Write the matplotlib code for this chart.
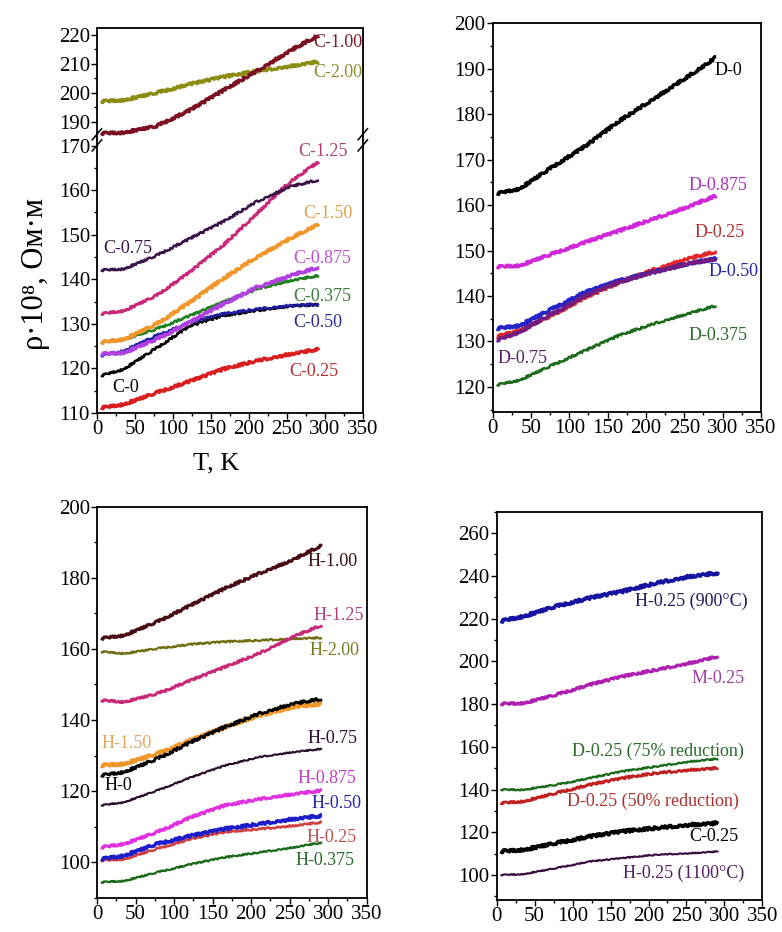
import matplotlib
matplotlib.use('Agg')
import matplotlib.pyplot as plt
from matplotlib.ticker import MultipleLocator

plt.rcParams['font.family'] = ['Liberation Serif', 'DejaVu Serif']

# temperature points (K) at which the curves were read
T = [5, 35, 78, 122, 166, 210, 254, 292]

# --- top left: C samples (broken axis) ---
c_100 = [186, 186.3, 188.5, 194, 200.8, 207.5, 214.5, 220]
c_200 = [197, 197.5, 200, 203, 205.5, 207.5, 209.2, 210.8]
c_075 = [142, 142.3, 145.3, 149.1, 152.9, 157.4, 160.8, 162.3]
c_125 = [132.2, 132.9, 136.3, 141.6, 147.6, 154.7, 161.9, 166.4]
c_150 = [125.8, 126.5, 129.9, 134.8, 140.1, 145, 149.1, 152.5]
c_0875 = [123.2, 123.5, 126.5, 130.3, 134.4, 138.2, 140.8, 142.7]
c_0375 = [125.8, 126.5, 128.8, 131.8, 134.8, 137.8, 139.7, 140.8]
c_050 = [122.8, 123.9, 127.3, 130.3, 132.2, 133.3, 134.1, 134.4]
c_0 = [118.3, 119.8, 124.5, 129.5, 131.8, 133, 134, 134.3]
c_025 = [111.1, 111.9, 114.5, 117.1, 119.8, 121.7, 123.2, 124.3]

# --- top right: D samples ---
d_0 = [162.5, 163.6, 168.4, 173.1, 178.6, 183.4, 188.2, 192.6]
d_0875 = [146.4, 146.7, 149.3, 151.9, 154.4, 157, 159.6, 162.1]
d_025 = [131, 132.5, 135.8, 139.8, 143, 145.8, 148.2, 149.8]
d_050 = [132.8, 133.5, 137.2, 140.9, 143.4, 145.3, 147.1, 148.2]
d_075 = [130.2, 132.1, 136.1, 140.1, 143.1, 145.3, 147.1, 148.2]
d_0375 = [120.4, 121.5, 124.8, 128.1, 131.4, 133.9, 136.1, 137.9]

# --- bottom left: H samples ---
h_100 = [162.9, 163.8, 167.6, 172.3, 177, 181.2, 185, 189.2]
h_200 = [159.2, 158.7, 160.1, 161.3, 162, 162.4, 162.9, 163.1]
h_125 = [145.5, 145.1, 147.4, 151.2, 154.9, 158.7, 163.4, 166.7]
h_150 = [127.2, 127.7, 130.5, 134.3, 138, 141.3, 143.7, 144.6]
h_0 = [124.4, 125.4, 129.1, 133.8, 138, 141.8, 144.6, 146]
h_075 = [116, 116.9, 120.2, 123.9, 127.2, 129.6, 131, 131.9]
h_0875 = [104.2, 105.2, 108.5, 112.7, 116, 117.8, 119.2, 120.2]
h_050 = [100.9, 101.9, 105.2, 107.5, 109.4, 110.8, 112.2, 113.1]
h_025 = [100.5, 100.9, 103.8, 106.6, 108.5, 109.4, 110.3, 111.3]
h_0375 = [94.4, 94.8, 97.2, 99.5, 101.4, 102.8, 104.2, 105.6]

# --- bottom right: 0.25 samples, different processing ---
h025_900 = [218.7, 221, 225.7, 229.6, 232.7, 236.6, 239.7, 241.3]
m_025 = [180, 180.4, 184.3, 189, 192.9, 196, 199.2, 202.3]
d025_75 = [139.9, 139.9, 142.2, 145.3, 148.5, 150.8, 153.1, 154.4]
d025_50 = [133.6, 134.4, 138.3, 142.2, 145.3, 147.7, 149.2, 150]
c025_b = [111, 111.8, 114.9, 118, 120.4, 122, 123.5, 124.3]
h025_1100 = [100, 100.4, 103.2, 106.3, 107.9, 109.5, 110.2, 111]

fig = plt.figure(figsize=(7.82, 9.32), dpi=100)
fig.patch.set_facecolor('white')

LBL = 13


def style_ax(ax, ymaj, ymin, xlabels=True):
    ax.set_xlim(0, 350)
    ax.xaxis.set_major_locator(MultipleLocator(50))
    ax.xaxis.set_minor_locator(MultipleLocator(25))
    ax.yaxis.set_major_locator(MultipleLocator(ymaj))
    ax.yaxis.set_minor_locator(MultipleLocator(ymin))
    ax.tick_params(which='both', direction='out', top=False, right=False,
                   labelsize=15, width=1, pad=1)
    ax.tick_params(which='major', length=4)
    ax.tick_params(which='minor', length=2)
    if not xlabels:
        ax.tick_params(axis='x', which='both', bottom=False, labelbottom=False)
    for s in ax.spines.values():
        s.set_linewidth(1.3)


def curve(ax, y, color, lw=2.0, noise=1.0):
    ln, = ax.plot(T, y, color=color, lw=lw, solid_capstyle='butt')
    if noise > 0:
        ln.set_sketch_params(scale=noise, length=2, randomness=6)
    return ln


def label(ax, x, y, s, color):
    ax.text(x, y, s, color=color, fontsize=LBL, ha='center', va='center')


# ---------- top left ----------
ax_u = fig.add_axes([0.124, 0.850, 0.340, 0.120])
ax_l = fig.add_axes([0.124, 0.557, 0.340, 0.293])
style_ax(ax_u, 10, 5, xlabels=False)
style_ax(ax_l, 10, 5)
ax_u.set_ylim(183.8, 222.4)
ax_l.set_ylim(110, 171.3)
ax_u.spines['bottom'].set_visible(False)
ax_l.spines['top'].set_visible(False)

curve(ax_u, c_200, '#8c8c14', 2.4, 1.2)
curve(ax_u, c_100, '#7a1020', 2.4, 1.2)
label(ax_u, 317, 217.3, 'C-1.00', '#7a1a2a')
label(ax_u, 317, 207.0, 'C-2.00', '#8c8c30')

curve(ax_l, c_0, 'black', 1.8, 1.0)
curve(ax_l, c_025, '#d81e1e', 2.4, 1.2)
curve(ax_l, c_050, '#1c1c9c', 1.8, 1.0)
curve(ax_l, c_0375, '#1e801e', 1.8, 1.0)
curve(ax_l, c_0875, '#b040e0', 2.4, 1.2)
curve(ax_l, c_150, '#f0962a', 2.4, 1.2)
curve(ax_l, c_125, '#c8287a', 2.0, 1.0)
curve(ax_l, c_075, '#3a1448', 1.8, 1.0)
label(ax_l, 297, 168.6, 'C-1.25', '#b0407a')
label(ax_l, 304, 154.7, 'C-1.50', '#e0a050')
label(ax_l, 296, 144.6, 'C-0.875', '#c050d0')
label(ax_l, 296, 136.2, 'C-0.375', '#3a7a3a')
label(ax_l, 290, 130.3, 'C-0.50', '#2a2a8a')
label(ax_l, 285, 119.4, 'C-0.25', '#b03030')
label(ax_l, 41, 146.8, 'C-0.75', '#3a1448')
label(ax_l, 38, 115.6, 'C-0', 'black')

# break marks on both spines
for xb in (0.0, 1.0):
    for dy in (-0.006, 0.006):
        fig.add_artist(plt.Line2D(
            [0.124 + 0.340 * xb - 0.006, 0.124 + 0.340 * xb + 0.006],
            [0.850 + dy - 0.006, 0.850 + dy + 0.006],
            color='black', lw=1.1, transform=fig.transFigure))

fig.text(0.046, 0.706, 'ρ·10⁸, Ом·м', rotation=90, fontsize=22,
         ha='center', va='center')
fig.text(0.276, 0.503, 'T, K', fontsize=19, ha='center', va='center')

# ---------- top right ----------
ax_d = fig.add_axes([0.630, 0.558, 0.343, 0.417])
style_ax(ax_d, 10, 5)
ax_d.set_ylim(114.5, 200)
curve(ax_d, d_0, 'black', 2.4, 1.2)
curve(ax_d, d_0875, '#d028d8', 2.4, 1.2)
curve(ax_d, d_025, '#e02828', 2.4, 1.2)
curve(ax_d, d_050, '#2424c8', 2.6, 1.2)
curve(ax_d, d_075, '#701c80', 2.4, 1.2)
curve(ax_d, d_0375, '#1a6a1a', 1.8, 1.0)
label(ax_d, 307, 189.6, 'D-0', 'black')
label(ax_d, 294, 164.3, 'D-0.875', '#b030c0')
label(ax_d, 296, 154.0, 'D-0.25', '#b03030')
label(ax_d, 314, 145.3, 'D-0.50', '#2424a0')
label(ax_d, 294, 131.3, 'D-0.375', '#2a6a2a')
label(ax_d, 39, 126.2, 'D-0.75', '#502060')

# ---------- bottom left ----------
ax_h = fig.add_axes([0.124, 0.0365, 0.345, 0.420])
style_ax(ax_h, 20, 10)
ax_h.set_ylim(90, 200)
curve(ax_h, h_100, '#4a0c14', 2.2, 1.1)
curve(ax_h, h_200, '#6e6e10', 1.6, 0.8)
curve(ax_h, h_125, '#c82878', 2.0, 1.0)
curve(ax_h, h_150, '#f09628', 2.6, 1.3)
curve(ax_h, h_0, 'black', 2.0, 1.3)
curve(ax_h, h_075, '#2a0c2a', 1.5, 0.6)
curve(ax_h, h_0875, '#e030e0', 2.2, 1.1)
curve(ax_h, h_025, '#d04040', 1.8, 0.8)
curve(ax_h, h_050, '#1c1cc8', 2.4, 1.3)
curve(ax_h, h_0375, '#1a6a1a', 1.6, 0.7)
label(ax_h, 306, 184.5, 'H-1.00', '#3a1010')
label(ax_h, 313, 169.5, 'H-1.25', '#b04080')
label(ax_h, 308.5, 159.6, 'H-2.00', '#7a7a20')
label(ax_h, 38.5, 133.5, 'H-1.50', '#e0a860')
label(ax_h, 306, 134.7, 'H-0.75', '#2a1030')
label(ax_h, 27.7, 121.6, 'H-0', 'black')
label(ax_h, 298, 123.5, 'H-0.875', '#c040c0')
label(ax_h, 311, 116.6, 'H-0.50', '#2424a0')
label(ax_h, 304, 107.0, 'H-0.25', '#c05050')
label(ax_h, 296, 100.5, 'H-0.375', '#2a6a2a')

# ---------- bottom right ----------
ax_m = fig.add_axes([0.635, 0.0343, 0.340, 0.4167])
style_ax(ax_m, 20, 10)
ax_m.set_ylim(88.3, 270)
curve(ax_m, h025_900, '#1414a0', 2.6, 1.3)
curve(ax_m, m_025, '#b020b0', 2.2, 1.1)
curve(ax_m, d025_75, '#1a6a1a', 1.6, 0.7)
curve(ax_m, d025_50, '#c02020', 2.0, 1.0)
curve(ax_m, c025_b, 'black', 2.6, 1.3)
curve(ax_m, h025_1100, '#3a0c40', 1.5, 0.5)
label(ax_m, 257, 228.0, 'H-0.25 (900°C)', '#1a1a60')
label(ax_m, 292, 192.1, 'M-0.25', '#a040a0')
label(ax_m, 213, 157.8, 'D-0.25 (75% reduction)', '#2a6a2a')
label(ax_m, 206, 134.4, 'D-0.25 (50% reduction)', '#b03030')
label(ax_m, 285.5, 118.0, 'C-0.25', 'black')
label(ax_m, 246, 100.9, 'H-0.25 (1100°C)', '#502060')

fig.savefig('out.png', dpi=100, facecolor='white')
